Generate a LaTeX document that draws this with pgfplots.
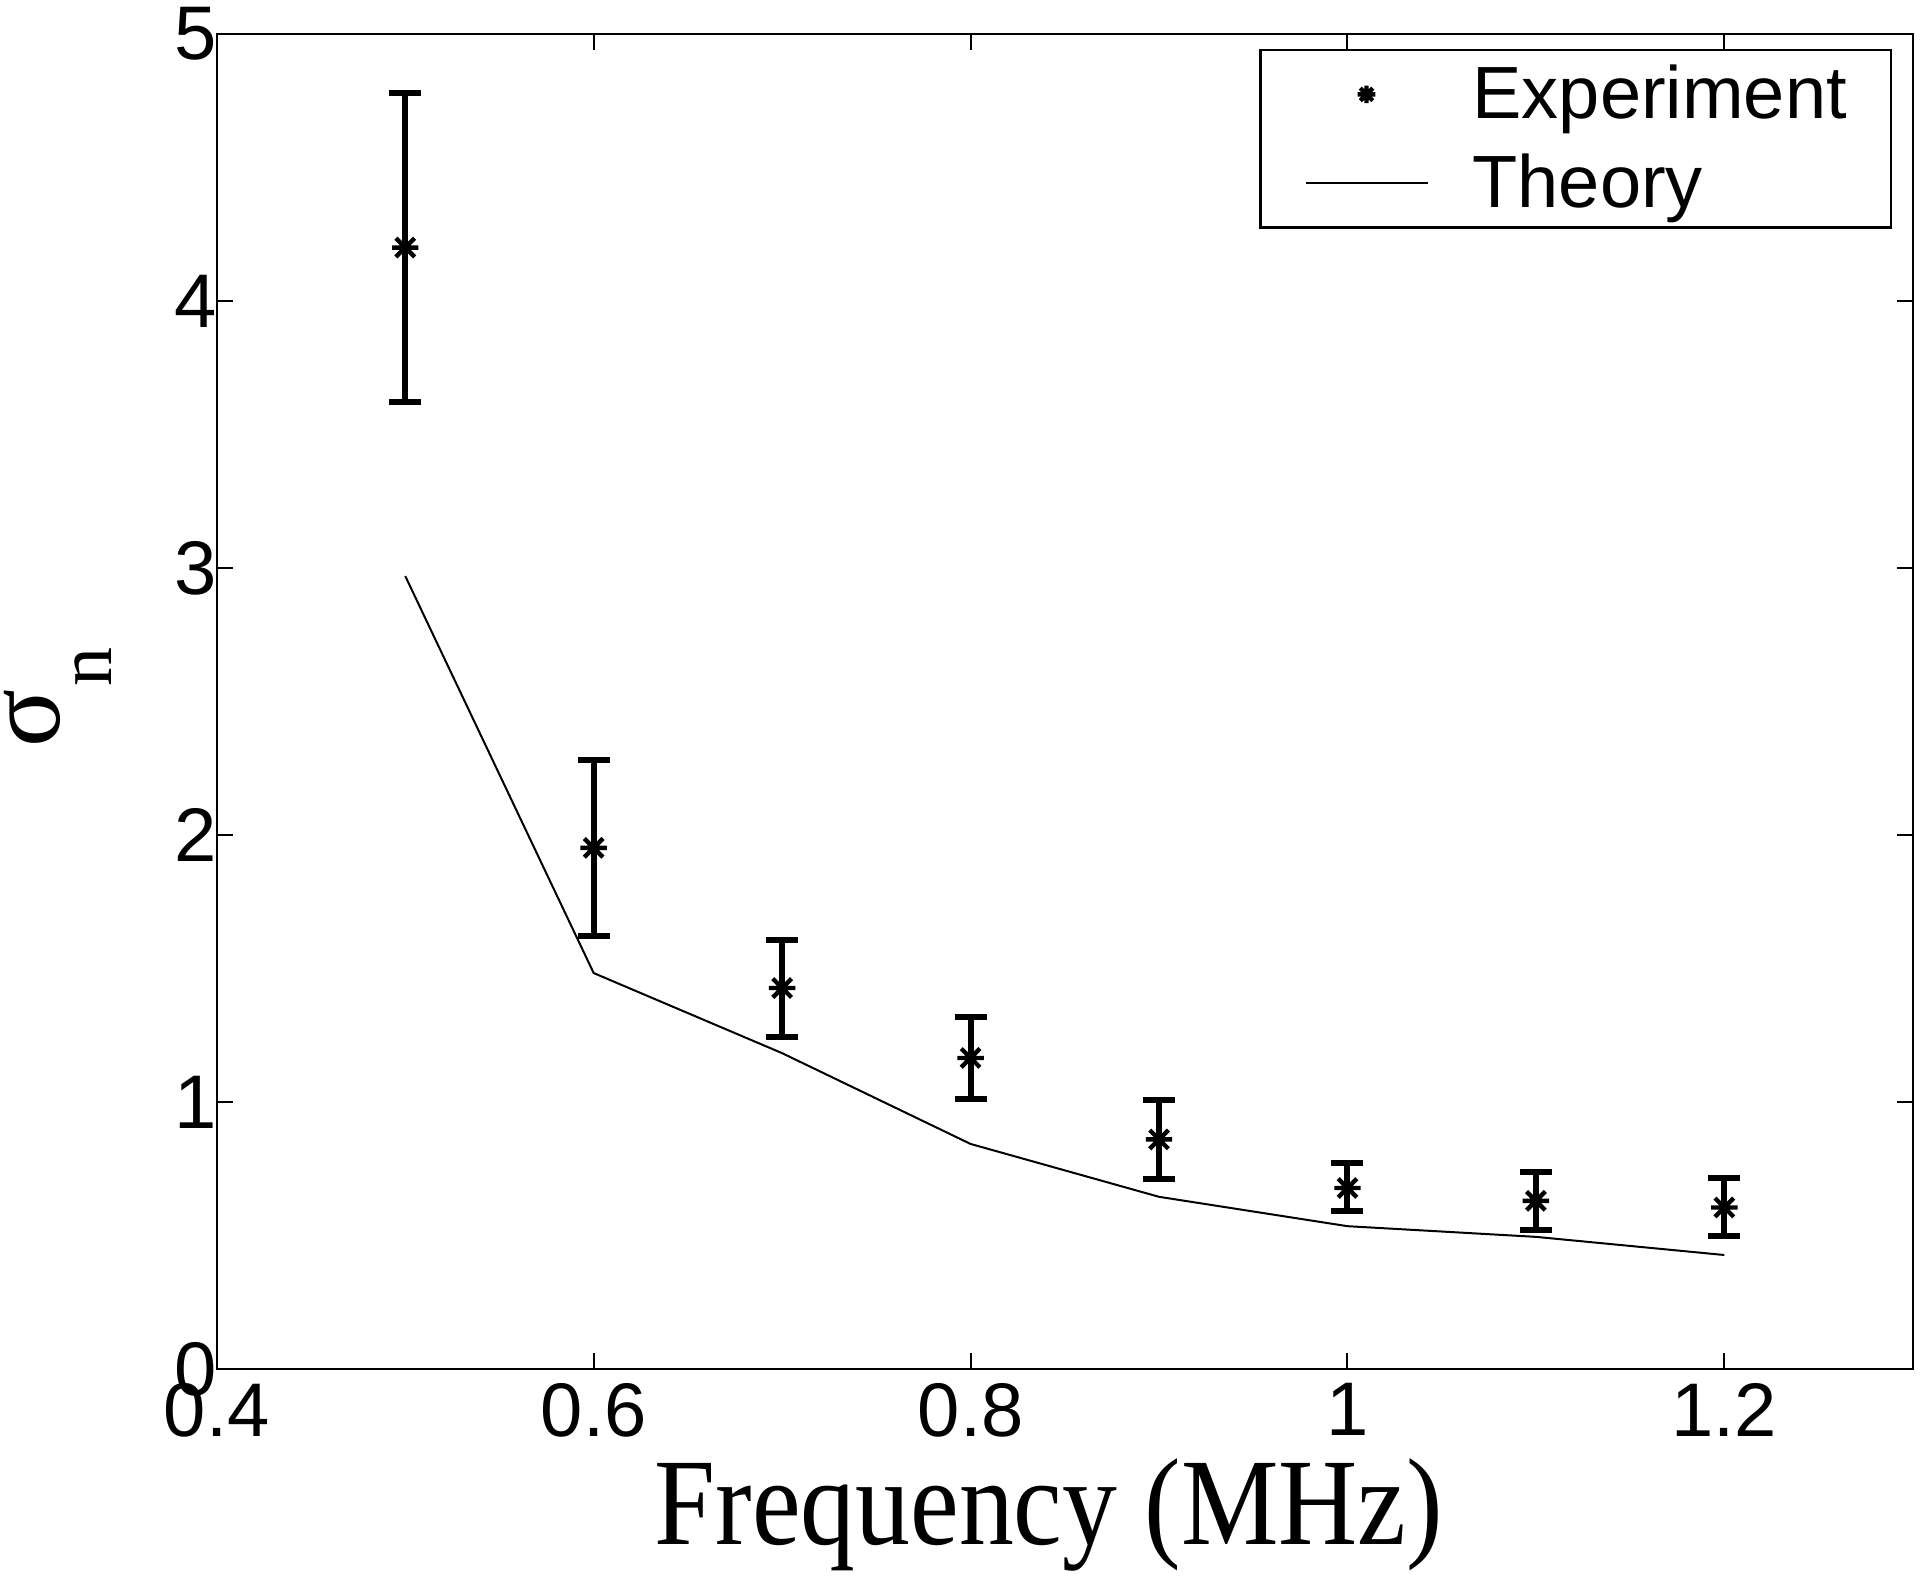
\documentclass[border=0pt]{standalone}
\usepackage{fontspec}
\setmainfont{Liberation Sans}
\newfontfamily\serif{Liberation Serif}
\usepackage{pgfplots}
\pgfplotsset{compat=1.18}
\usetikzlibrary{calc}

\pgfdeclareplotmark{mstar}{%
  \pgfpathmoveto{\pgfqpoint{-\pgfplotmarksize}{0pt}}\pgfpathlineto{\pgfqpoint{\pgfplotmarksize}{0pt}}%
  \pgfpathmoveto{\pgfqpoint{0pt}{-\pgfplotmarksize}}\pgfpathlineto{\pgfqpoint{0pt}{\pgfplotmarksize}}%
  \pgfpathmoveto{\pgfqpoint{-0.707\pgfplotmarksize}{-0.707\pgfplotmarksize}}\pgfpathlineto{\pgfqpoint{0.707\pgfplotmarksize}{0.707\pgfplotmarksize}}%
  \pgfpathmoveto{\pgfqpoint{-0.707\pgfplotmarksize}{0.707\pgfplotmarksize}}\pgfpathlineto{\pgfqpoint{0.707\pgfplotmarksize}{-0.707\pgfplotmarksize}}%
  \pgfusepathqstroke}

\pgfplotsset{
  lineleg/.style={legend image code/.code={\draw[##1] (0pt,0pt) -- (30.5pt,0pt);}},
  markleg/.style={legend image code/.code={\path[draw=none] (0pt,0pt) -- (30.5pt,0pt);
      \path[##1, draw=none, mark size=2.2pt] plot[only marks] coordinates {(15.25pt,0pt)};}},
}

\pgfplotstableread{
x    y     ep     em
0.5  4.200 0.580  0.580
0.6  1.952 0.330  0.330
0.7  1.427 0.180  0.183
0.8  1.165 0.155  0.155
0.9  0.860 0.148  0.149
1.0  0.678 0.093  0.088
1.1  0.630 0.109  0.108
1.2  0.605 0.110  0.106
}\experiment

\pgfplotstableread{
x    y
0.5  2.970
0.6  1.483
0.7  1.183
0.8  0.843
0.9  0.645
1.0  0.535
1.1  0.495
1.2  0.427
}\theory

\begin{document}
\begin{tikzpicture}
\begin{axis}[
  scale only axis,
  width=424pt, height=333.75pt,
  xmin=0.4, xmax=1.3, ymin=0, ymax=5,
  xtick={0.4,0.6,0.8,1,1.2},
  xticklabels={0.4,0.6,0.8,1,1.2},
  ytick={0,1,2,3,4,5},
  yticklabels={0,1,2,3,4,5},
  tick align=inside,
  major tick length=4pt,
  axis line style={line width=0.6pt},
  every tick/.style={black, line width=0.5pt},
  tick label style={font=\fontsize{19}{22}\selectfont},
  yticklabel style={xshift=3.5pt},
  /pgf/number format/assume math mode=true,
  xlabel={Frequency (MHz)},
  xlabel style={at={(axis description cs:0.4906,-0.1318)}, anchor=base,
    font=\serif\fontsize{27.4}{32}\selectfont, yscale=1.13, inner sep=0pt},
  ylabel={{\fontsize{27}{32}\selectfont\serif σ}\hspace{0.5pt}\raisebox{-12.8pt}{\fontsize{19.5}{24}\selectfont\serif n}},
  ylabel style={at={(axis description cs:-0.0618,0.503)}, anchor=south, inner sep=0pt},
  legend cell align=left,
  legend style={at={(rel axis cs:1,1)}, anchor=north east, xshift=-5.2pt, yshift=-3.75pt,
    draw=black, line width=0.6pt, fill=white,
    inner xsep=11pt, inner ysep=3.6pt, row sep=7.3pt, column sep=11pt,
    nodes={inner sep=0pt, font=\fontsize{18.5}{22}\selectfont}},
]
\addplot[only marks, mark=mstar, mark size=3.3pt, mark options={line width=1.1pt, black},
  markleg,
  error bars/.cd, y dir=both, y explicit,
  error bar style={line width=1.5pt, black},
  error mark options={rotate=90, line width=1.5pt, mark size=4pt, black},
  ] table[x=x, y=y, y error plus=ep, y error minus=em] {\experiment};
\addlegendentry{Experiment}
\addplot[black, line width=0.5pt, mark=none, lineleg] table[x=x, y=y] {\theory};
\addlegendentry{Theory}
\end{axis}
\pgfresetboundingbox
\path[use as bounding box] ($(current axis.south west)+(-54.2pt,-51.8pt)$) rectangle ($(current axis.north east)+(1.8pt,8.5pt)$);
\end{tikzpicture}
\end{document}
